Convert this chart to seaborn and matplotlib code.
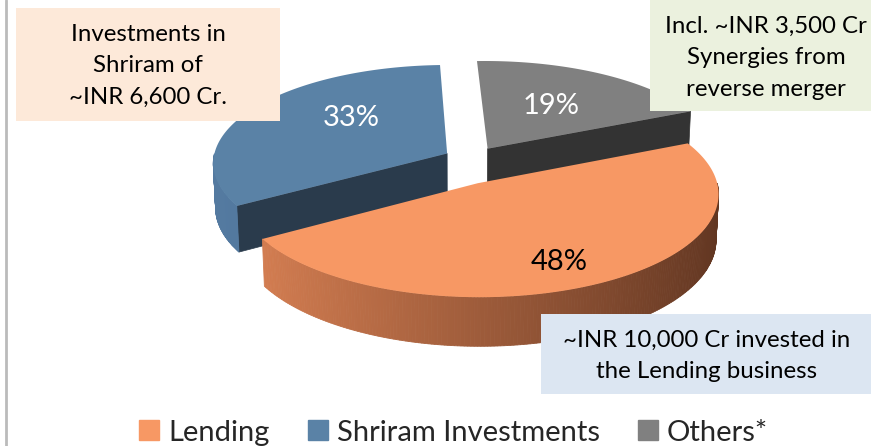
import numpy as np
import matplotlib.pyplot as plt
import seaborn as sns
from matplotlib.patches import Polygon, Rectangle
from matplotlib.lines import Line2D

# Chart data
labels = ['Lending', 'Shriram Investments', 'Others*']
shares = [48, 33, 19]
pct_labels = ['48%', '33%', '19%']

# Callout boxes (text, box colour)
notes = ['Investments in\nShriram of\n~INR 6,600 Cr.',
         'Incl. ~INR 3,500 Cr\nSynergies from\nreverse merger',
         '~INR 10,000 Cr invested in\nthe Lending business']
note_colors = ['#FDE9D9', '#EBF1DE', '#DCE6F2']

# Colours for top face, radial cut face and outer wall (light -> dark)
top_colors = ['#F79864', '#5A82A6', '#808080']
cut_colors = ['#6B3A22', '#2A3B4C', '#333333']
wall_light = [(0.86, 0.51, 0.33), (0.33, 0.48, 0.63), (0.45, 0.45, 0.45)]
wall_dark = [(0.38, 0.21, 0.13), (0.27, 0.40, 0.54), (0.30, 0.30, 0.30)]
pct_color = ['black', 'white', 'white']
# explode distance and direction (None = through the middle of the slice)
explode = [40, 37, 55]
explode_dir = [None, 109, None]
# label placement: fraction of radius, turn from the slice middle (deg)
label_r = [0.78, 0.57, 0.55]
label_turn = [-4, -12.6, 0]

sns.set_theme(style='white')
plt.rcParams['font.family'] = ['Lato', 'DejaVu Sans']

fig = plt.figure(figsize=(8.71, 4.46), dpi=100)
ax = fig.add_axes([0, 0, 1, 1])
ax.set_xlim(0, 871)
ax.set_ylim(446, 0)
ax.axis('off')

# simple perspective projection for a tilted pie
cx, cy = 459, 168
R = 236
h = 50
el = np.radians(25)
D = 2200


def proj(u, v, z):
    depth = v * np.cos(el) - z * np.sin(el)
    s = D / (D + depth)
    return cx + s * u, cy - s * (v * np.sin(el) + z * np.cos(el))


def mix(c1, c2, f):
    return tuple(a + (b - a) * f for a, b in zip(c1, c2))


start = 23.8
cum = np.concatenate([[0], np.cumsum(shares)])
slices = []
for i in range(len(shares)):
    a0 = start - 360 * cum[i] / 100
    a1 = a0 - 360 * shares[i] / 100
    mid = np.radians((a0 + a1) / 2)
    d = mid if explode_dir[i] is None else np.radians(explode_dir[i])
    du, dv = explode[i] * np.cos(d), explode[i] * np.sin(d)
    slices.append((i, np.radians(a0), np.radians(a1), mid, du, dv))

# draw back slices first
slices.sort(key=lambda s: -s[5])

for i, a0, a1, mid, du, dv in slices:
    # radial cut faces that face the viewer
    for edge, normal in [(a0, a0 + np.pi / 2), (a1, a1 - np.pi / 2)]:
        if np.sin(normal) < -0.05:
            eu, ev = du + R * np.cos(edge), dv + R * np.sin(edge)
            pts = [proj(du, dv, 0), proj(eu, ev, 0), proj(eu, ev, -h), proj(du, dv, -h)]
            ax.add_patch(Polygon(pts, closed=True, fc=cut_colors[i], ec=cut_colors[i], lw=0.5))
    # outer wall with a left-to-right shade
    ts = np.linspace(a1, a0, 240)
    for t0, t1 in zip(ts[:-1], ts[1:]):
        tm = (t0 + t1) / 2
        if np.sin(tm) >= 0:
            continue
        f = (1 - np.cos(tm)) / 2
        col = mix(wall_dark[i], wall_light[i], f)
        p = [proj(du + R * np.cos(t), dv + R * np.sin(t), 0) for t in (t0, t1)]
        q = [proj(du + R * np.cos(t), dv + R * np.sin(t), -h) for t in (t1, t0)]
        ax.add_patch(Polygon(p + q, closed=True, fc=col, ec=col, lw=0.6))
    # top face
    arc = [proj(du + R * np.cos(t), dv + R * np.sin(t), 0) for t in np.linspace(a0, a1, 200)]
    ax.add_patch(Polygon([proj(du, dv, 0)] + arc, closed=True, fc=top_colors[i], ec='none'))
    # percentage label
    la = mid + np.radians(label_turn[i])
    lx, ly = proj(du + label_r[i] * R * np.cos(la), dv + label_r[i] * R * np.sin(la), 0)
    ax.text(lx, ly, pct_labels[i], color=pct_color[i], fontsize=21, ha='center', va='center')

# callout boxes
box_xy = [(16, 8, 264, 113), (650, 0, 221, 111), (541, 314, 330, 80)]
text_xy = [(148, 66), (766, 58), (707, 356)]
for note, col, (bx, by, bw, bh), (tx, ty) in zip(notes, note_colors, box_xy, text_xy):
    ax.add_patch(Rectangle((bx, by), bw, bh, fc=col, ec='none', zorder=3))
    ax.text(tx, ty, note, ha='center', va='center', fontsize=17.3, linespacing=1.62,
            color='black', zorder=4)

# frame line on the left
ax.plot([5.5, 5.5], [0, 446], color='#BBBBBB', lw=2)

# legend
handles = [Line2D([], [], marker='s', ls='none', markersize=14, color=c) for c in top_colors]
ax.legend(handles, labels, loc='lower center', bbox_to_anchor=(0.52, -0.058), ncol=3,
          frameon=False, fontsize=21, handletextpad=0.25, columnspacing=1.25, handlelength=0.8)

fig.savefig('out.png', dpi=100)
